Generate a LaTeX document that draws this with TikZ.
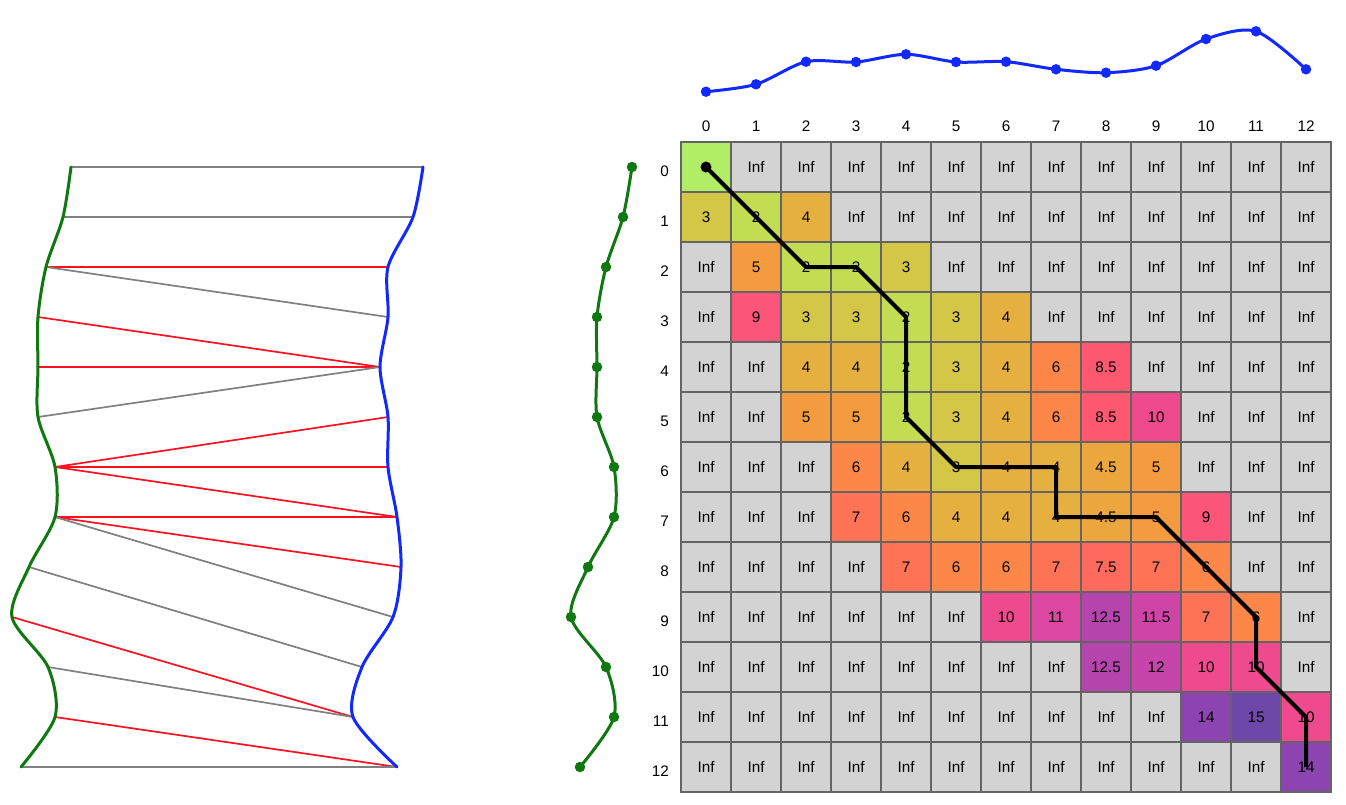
\documentclass[tikz,border=0pt]{standalone}
\usepackage{fontspec}
\setmainfont{Liberation Sans}
\definecolor{cblue}{RGB}{17,40,255}
\definecolor{cgreen}{RGB}{16,120,16}
\definecolor{cred}{RGB}{255,17,34}
\definecolor{cgray}{RGB}{128,128,128}
\definecolor{gridc}{RGB}{100,100,100}
\definecolor{ki}{RGB}{211,211,211}
\definecolor{k0}{HTML}{B1EE66}
\definecolor{k2}{HTML}{C2DD52}
\definecolor{k3}{HTML}{D4C647}
\definecolor{k4}{HTML}{E5B03F}
\definecolor{k45}{HTML}{EBA63D}
\definecolor{k5}{HTML}{F49B3F}
\definecolor{k6}{HTML}{FD8748}
\definecolor{k7}{HTML}{FE7356}
\definecolor{k75}{HTML}{FE6A5D}
\definecolor{k85}{HTML}{FD5870}
\definecolor{k9}{HTML}{FC557A}
\definecolor{k10}{HTML}{F04A8E}
\definecolor{k11}{HTML}{DC47A1}
\definecolor{k115}{HTML}{CF45A7}
\definecolor{k12}{HTML}{C745AB}
\definecolor{k125}{HTML}{B544AD}
\definecolor{k14}{HTML}{8B44B0}
\definecolor{k15}{HTML}{6E48A8}
\newcommand\dtwrow[2]{\foreach \t/\c [count=\j from 0] in {#2}{\node[cell,fill=\c] (c-#1-\j) at ({706+50*\j},{167+50*#1}) {\t};}}
\begin{document}
\begin{tikzpicture}[x=1pt,y=-1pt,font=\fontsize{15.3}{18}\selectfont,
  cell/.style={draw=gridc,line width=2pt,minimum width=50pt,minimum height=50pt,inner sep=0pt,outer sep=0pt},
  lbl/.style={inner sep=0pt},
  dotb/.style={circle,fill=cblue,inner sep=0pt,minimum size=10.5pt},
  dotg/.style={circle,fill=cgreen,inner sep=0pt,minimum size=10.5pt},
  curveb/.style={draw=cblue,line width=3pt,line join=round,line cap=round},
  curveg/.style={draw=cgreen,line width=3pt,line join=round,line cap=round},
  redline/.style={draw=cred,line width=1.7pt},
  grayline/.style={draw=cgray,line width=1.7pt},
  dtwpath/.style={draw=black,line width=4pt,line join=round},
  startdot/.style={circle,fill=black,inner sep=0pt,minimum size=11pt}]
\useasboundingbox (0,0) rectangle (1346,804);
\fill[white] (0,0) rectangle (1346,804);

% ---------- left panel ----------
\foreach \x [count=\i from 0] in {71,63,46,38,38,38,55,55,29,12,48,55,21}
  \coordinate (gL\i) at (\x,{167+50*\i});
\foreach \x [count=\i from 0] in {423,413,388,388,380,388,388,397,401,393,362,353,397}
  \coordinate (bL\i) at (\x,{167+50*\i});

\foreach \a/\b/\s in {0/0/grayline,1/1/grayline,2/2/redline,2/3/grayline,3/4/redline,4/4/redline,
  5/4/grayline,6/5/redline,6/6/redline,6/7/redline,7/7/redline,7/8/redline,7/9/grayline,
  8/10/grayline,9/11/redline,10/11/grayline,11/12/redline,12/12/grayline}
  \draw[\s] (gL\a) -- (bL\b);

\draw[curveg] plot[smooth,tension=0.5] coordinates {(gL0) (gL1) (gL2) (gL3) (gL4) (gL5) (gL6) (gL7) (gL8) (gL9) (gL10) (gL11) (gL12)};
\draw[curveb] plot[smooth,tension=0.5] coordinates {(bL0) (bL1) (bL2) (bL3) (bL4) (bL5) (bL6) (bL7) (bL8) (bL9) (bL10) (bL11) (bL12)};

% ---------- right green series ----------
\foreach \x [count=\i from 0] in {632,623,606,597,597,597,614,614,588,571,606,614,580}
  \coordinate (gR\i) at (\x,{167+50*\i});
\draw[curveg] plot[smooth,tension=0.5] coordinates {(gR0) (gR1) (gR2) (gR3) (gR4) (gR5) (gR6) (gR7) (gR8) (gR9) (gR10) (gR11) (gR12)};
\foreach \i in {0,...,12} \node[dotg] (dgR\i) at (gR\i) {};

% ---------- top blue series ----------
\foreach \y [count=\i from 0] in {91.7,84.3,61.7,62,54.3,62,61.7,69.3,72.7,65.7,39,31.3,69.3}
  \coordinate (bT\i) at ({706+50*\i},\y);
\draw[curveb] plot[smooth,tension=0.5] coordinates {(bT0) (bT1) (bT2) (bT3) (bT4) (bT5) (bT6) (bT7) (bT8) (bT9) (bT10) (bT11) (bT12)};
\foreach \i in {0,...,12} \node[dotb] (dbT\i) at (bT\i) {};

% ---------- labels ----------
\foreach \i in {0,...,12} {
  \node[lbl,anchor=base] (col\i) at ({706+50*\i},131) {\i};
  \node[lbl,anchor=base east] (row\i) at (669,{176+50*\i}) {\i};
}

% ---------- matrix ----------
\dtwrow{0}{{}/k0,Inf/ki,Inf/ki,Inf/ki,Inf/ki,Inf/ki,Inf/ki,Inf/ki,Inf/ki,Inf/ki,Inf/ki,Inf/ki,Inf/ki}
\dtwrow{1}{3/k3,2/k2,4/k4,Inf/ki,Inf/ki,Inf/ki,Inf/ki,Inf/ki,Inf/ki,Inf/ki,Inf/ki,Inf/ki,Inf/ki}
\dtwrow{2}{Inf/ki,5/k5,2/k2,2/k2,3/k3,Inf/ki,Inf/ki,Inf/ki,Inf/ki,Inf/ki,Inf/ki,Inf/ki,Inf/ki}
\dtwrow{3}{Inf/ki,9/k9,3/k3,3/k3,2/k2,3/k3,4/k4,Inf/ki,Inf/ki,Inf/ki,Inf/ki,Inf/ki,Inf/ki}
\dtwrow{4}{Inf/ki,Inf/ki,4/k4,4/k4,2/k2,3/k3,4/k4,6/k6,8.5/k85,Inf/ki,Inf/ki,Inf/ki,Inf/ki}
\dtwrow{5}{Inf/ki,Inf/ki,5/k5,5/k5,2/k2,3/k3,4/k4,6/k6,8.5/k85,10/k10,Inf/ki,Inf/ki,Inf/ki}
\dtwrow{6}{Inf/ki,Inf/ki,Inf/ki,6/k6,4/k4,3/k3,4/k4,4/k4,4.5/k45,5/k5,Inf/ki,Inf/ki,Inf/ki}
\dtwrow{7}{Inf/ki,Inf/ki,Inf/ki,7/k7,6/k6,4/k4,4/k4,4/k4,4.5/k45,5/k5,9/k9,Inf/ki,Inf/ki}
\dtwrow{8}{Inf/ki,Inf/ki,Inf/ki,Inf/ki,7/k7,6/k6,6/k6,7/k7,7.5/k75,7/k7,6/k6,Inf/ki,Inf/ki}
\dtwrow{9}{Inf/ki,Inf/ki,Inf/ki,Inf/ki,Inf/ki,Inf/ki,10/k10,11/k11,12.5/k125,11.5/k115,7/k7,6/k6,Inf/ki}
\dtwrow{10}{Inf/ki,Inf/ki,Inf/ki,Inf/ki,Inf/ki,Inf/ki,Inf/ki,Inf/ki,12.5/k125,12/k12,10/k10,10/k10,Inf/ki}
\dtwrow{11}{Inf/ki,Inf/ki,Inf/ki,Inf/ki,Inf/ki,Inf/ki,Inf/ki,Inf/ki,Inf/ki,Inf/ki,14/k14,15/k15,10/k10}
\dtwrow{12}{Inf/ki,Inf/ki,Inf/ki,Inf/ki,Inf/ki,Inf/ki,Inf/ki,Inf/ki,Inf/ki,Inf/ki,Inf/ki,Inf/ki,14/k14}

% ---------- warping path ----------
\draw[dtwpath] (c-0-0.center) -- (c-1-1.center) -- (c-2-2.center) -- (c-2-3.center) -- (c-3-4.center)
  -- (c-4-4.center) -- (c-5-4.center) -- (c-6-5.center) -- (c-6-6.center) -- (c-6-7.center)
  -- (c-7-7.center) -- (c-7-8.center) -- (c-7-9.center) -- (c-8-10.center) -- (c-9-11.center)
  -- (c-10-11.center) -- (c-11-12.center) -- (c-12-12.center);
\node[startdot] (start) at (c-0-0.center) {};
\end{tikzpicture}
\end{document}
